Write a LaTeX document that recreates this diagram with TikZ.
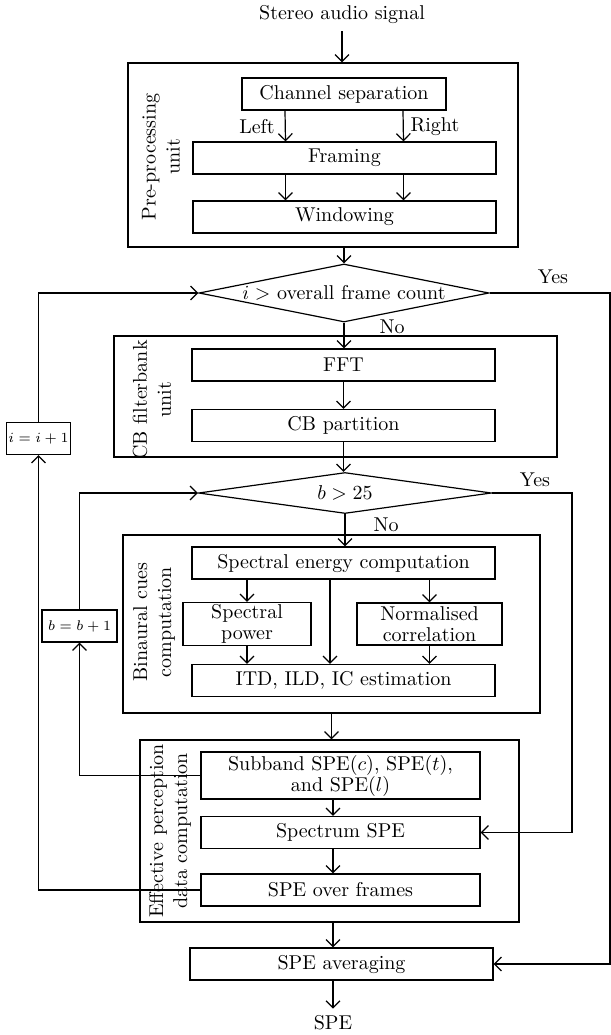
\documentclass[tikz,border=0pt]{standalone}
\usetikzlibrary{shapes.geometric,arrows.meta}
\begin{document}
\begin{tikzpicture}[x=0.5pt, y=-0.5pt, every node/.style={font=\fontsize{10}{12}\selectfont},
  pbox/.style={draw, line width=0.6pt, minimum width=151.5pt, minimum height=16pt, inner sep=1pt,
    align=center, font=\fontsize{10}{10.5}\selectfont},
  unitbox/.style={draw, line width=0.6pt, inner sep=0pt},
  dnode/.style={diamond, draw, line width=0.6pt, inner sep=0pt, aspect=5},
  ulbl/.style={rotate=90, align=center},
  cnt/.style={draw, line width=0.6pt, inner sep=1pt, minimum height=16pt, font=\fontsize{7.5}{9}\selectfont},
  flow/.style={line width=0.6pt, -{Straight Barb[length=3.5pt,width=7pt]}}]
  \useasboundingbox (0,0) rectangle (611,1035);
  % Input and pre-processing
  \node (in) at (342,15) {Stereo audio signal};
  \node[unitbox, minimum width=195pt, minimum height=92pt] (pre) at (323,155) {};
  \node[ulbl] (prel) at (161,157) {Pre-processing\\unit};
  \node[pbox, minimum width=102pt] (chan) at (344,94) {Channel separation};
  \node[pbox] (frame) at (344.5,158) {Framing};
  \node[pbox] (win) at (344.5,217) {Windowing};
  \node (left) at (257,127) {Left};
  \node (right) at (435,127) {Right};
  \draw[flow] (in.south) -- (in.south |- pre.north);
  \draw[flow] ([xshift=-29.5pt]chan.south) -- ([xshift=-29.5pt]frame.north);
  \draw[flow] ([xshift=29.5pt]chan.south) -- ([xshift=29.5pt]frame.north);
  \draw[flow] ([xshift=-29.5pt]frame.south) -- ([xshift=-29.5pt]win.north);
  \draw[flow] ([xshift=29.5pt]frame.south) -- ([xshift=29.5pt]win.north);
  % Frame loop test
  \node[dnode, minimum width=145pt, minimum height=29pt] (d1) at (344,293) {$i >$ overall frame count};
  \node (yes1) at (553,277) {Yes};
  \node (no1) at (392,327) {No};
  \draw[flow] (d1.north |- pre.south) -- (d1.north);
  % CB filterbank
  \node[unitbox, minimum width=221.5pt, minimum height=60.5pt] (cb) at (335.5,396.5) {};
  \node[ulbl] (cbl) at (152,400) {CB filterbank\\unit};
  \node[pbox] (fft) at (343.5,365) {FFT};
  \node[pbox] (cbp) at (343.5,425.5) {CB partition};
  \draw[flow] (d1.south) -- (d1.south |- fft.north);
  \draw[flow] (fft) -- (cbp);
  % Band loop test
  \node[dnode, minimum width=146.5pt, minimum height=20.5pt, aspect=7] (d2) at (345,493) {$b > 25$};
  \node (yes2) at (535,480) {Yes};
  \node (no2) at (386,525) {No};
  \draw[flow] (cbp.south) -- (cbp.south |- d2.north);
  % Binaural cues
  \node[unitbox, minimum width=208.5pt, minimum height=89pt] (bin) at (331.5,624) {};
  \node[ulbl] (binl) at (154,622) {Binaural cues\\computation};
  \node[pbox] (se) at (343.5,563) {Spectral energy computation};
  \node[pbox, minimum width=64pt, minimum height=21pt] (sp) at (247,624) {Spectral\\power};
  \node[pbox, minimum width=72.5pt, minimum height=21pt] (nc) at (429.5,624) {Normalised\\correlation};
  \node[pbox] (itd) at (343.5,680.5) {ITD, ILD, IC estimation};
  \draw[flow] (d2.south) -- (d2.south |- se.north);
  \draw[flow] (sp.north |- se.south) -- (sp.north);
  \draw[flow] (nc.north |- se.south) -- (nc.north);
  \draw[flow] ([xshift=-6.75pt]se.south) -- ([xshift=-6.75pt]itd.north);
  \draw[flow] (sp.south) -- (sp.south |- itd.north);
  \draw[flow] (nc.south) -- (nc.south |- itd.north);
  % Effective perception data
  \node[unitbox, minimum width=189.5pt, minimum height=91pt] (eff) at (329.5,831) {};
  \node[ulbl] (effl) at (170,831) {Effective perception\\data computation};
  \node[pbox, minimum width=139.5pt, minimum height=23.5pt] (sub) at (340.5,775.5) {Subband SPE($c$), SPE($t$),\\and SPE($l$)};
  \node[pbox, minimum width=139.5pt] (spec) at (340.5,832.5) {Spectrum SPE};
  \node[pbox, minimum width=139.5pt] (ovf) at (340.5,890) {SPE over frames};
  % Averaging
  \node[pbox] (avg) at (341.5,964) {SPE averaging};
  \node (out) at (333,1023) {SPE};
  \draw[flow] (bin.south) -- (bin.south |- eff.north);
  \draw[flow] (out |- sub.south) -- (out |- spec.north);
  \draw[flow] (out |- spec.south) -- (out |- ovf.north);
  \draw[flow] (out |- eff.south) -- (out |- avg.north);
  \draw[flow] (out |- avg.south) -- (out.north);
  % Counters and loops
  \node[cnt, minimum width=28.5pt] (inci) at (38.5,438.5) {$i = i + 1$};
  \node[cnt, minimum width=37.5pt] (incb) at (79.5,626) {$b = b + 1$};
  \coordinate (redge) at (610,0);
  \coordinate (yedge) at (572,0);
  \draw[flow] (ovf.west) -| (inci.south);
  \draw[flow] (inci.north) |- (d1.west);
  \draw[flow] (sub.west) -| (incb.south);
  \draw[flow] (incb.north) |- (d2.west);
  \draw[flow] (d1.east) -| (redge |- avg.east) -- (avg.east);
  \draw[flow] (d2.east) -| (yedge |- spec.east) -- (spec.east);
\end{tikzpicture}
\end{document}
